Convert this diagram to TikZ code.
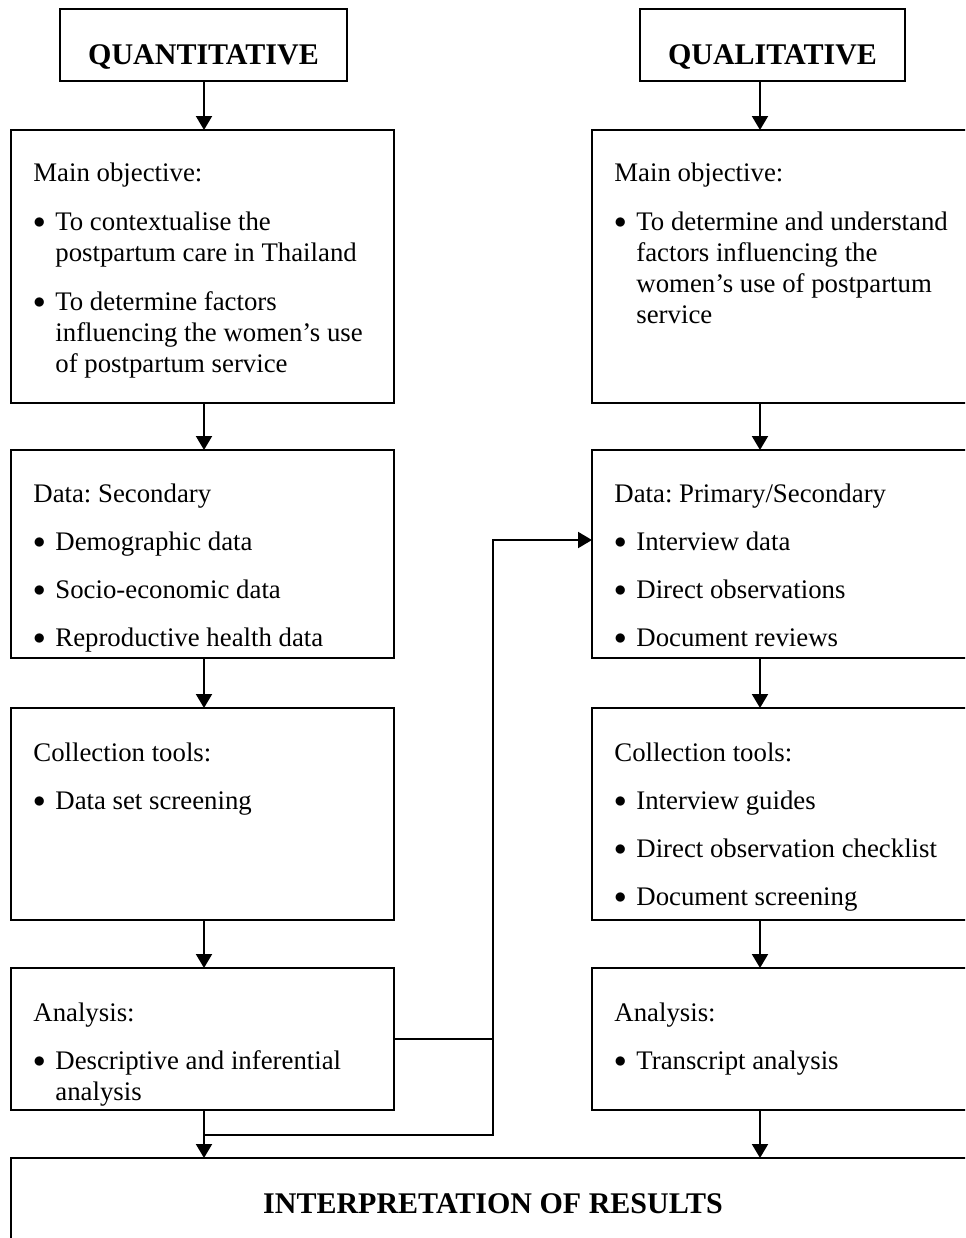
\documentclass[tikz,border=0pt]{standalone}
\usepackage{fontspec}
\setmainfont{Liberation Serif}
\usetikzlibrary{arrows.meta,positioning,calc}
\newcommand{\itm}{\makebox[11pt][l]{\raisebox{0.9pt}{\fontsize{12}{12}\selectfont$\bullet$}}}
\newcommand{\cont}{\hspace*{11pt}}
\newcommand{\hd}{\rule{0pt}{10pt}}
\frenchspacing

\begin{document}
\begin{tikzpicture}[x=0.5pt,y=-0.5pt,
  font=\fontsize{13.4}{15.5}\selectfont,
  stage/.style={draw,line width=1pt,rectangle,inner sep=0pt,outer sep=0pt,minimum width=191.5pt},
  head/.style={draw,line width=1pt,rectangle,inner sep=0pt,outer sep=0pt,minimum height=36pt,
    text height=19pt,text depth=0pt,font=\fontsize{15}{17}\selectfont\bfseries},
  txt/.style={anchor=north west,inner sep=0pt,align=left},
  arr/.style={line width=1pt,-{Triangle[length=7pt,width=8pt]}}]
\clip (0,0) rectangle (965,1238);
\coordinate (colL) at (204,0);
\coordinate (colR) at (760,0);
\coordinate (jn) at (493,0);
% --- headings ---
\node[head,minimum width=143.5pt] (titleL) at (203.5,45) {QUANTITATIVE};
\node[head,minimum width=132.5pt] (titleR) at (772.5,45) {QUALITATIVE};
% --- quantitative column ---
\node[stage,anchor=north west,minimum height=136.5pt] (mainL) at (11,130) {};
\node[stage,minimum height=104pt,below=23.5pt of mainL] (dataL) {};
\node[stage,minimum height=106pt,below=25pt of dataL] (collL) {};
\node[stage,minimum height=71pt,below=24pt of collL] (anaL) {};
% --- qualitative column ---
\node[stage,minimum height=136.5pt,right=99pt of mainL] (mainR) {};
\node[stage,minimum height=104pt,below=23.5pt of mainR] (dataR) {};
\node[stage,minimum height=106pt,below=25pt of dataR] (collR) {};
\node[stage,minimum height=71pt,below=24pt of collR] (anaR) {};
% --- results ---
\node[stage,minimum width=482pt,minimum height=46pt,below right=24pt and 0pt of anaL.south west,
  font=\fontsize{15}{17}\selectfont\bfseries] (interp) {INTERPRETATION OF RESULTS};

% box texts
\node[txt] (mainLt) at ($(mainL.north west)+(22,31)$) {\hd Main objective:\\[9pt]
  \itm To contextualise the\\ \cont postpartum care in Thailand\\[9pt]
  \itm To determine factors\\ \cont influencing the women's use\\ \cont of postpartum service};
\node[txt] (dataLt) at ($(dataL.north west)+(22,32)$) {\hd Data: Secondary\\[8.5pt]
  \itm Demographic data\\[8.5pt] \itm Socio-economic data\\[8.5pt] \itm Reproductive health data};
\node[txt] (collLt) at ($(collL.north west)+(22,33)$) {\hd Collection tools:\\[8.5pt]
  \itm Data set screening};
\node[txt] (anaLt) at ($(anaL.north west)+(22,33)$) {\hd Analysis:\\[8.5pt]
  \itm Descriptive and inferential\\ \cont analysis};
\node[txt] (mainRt) at ($(mainR.north west)+(22,31)$) {\hd Main objective:\\[9pt]
  \itm To determine and understand\\ \cont factors influencing the\\
  \cont women's use of postpartum\\ \cont service};
\node[txt] (dataRt) at ($(dataR.north west)+(22,32)$) {\hd Data: Primary/Secondary\\[8.5pt]
  \itm Interview data\\[8.5pt] \itm Direct observations\\[8.5pt] \itm Document reviews};
\node[txt] (collRt) at ($(collR.north west)+(22,33)$) {\hd Collection tools:\\[8.5pt]
  \itm Interview guides\\[8.5pt] \itm Direct observation checklist\\[8.5pt] \itm Document screening};
\node[txt] (anaRt) at ($(anaR.north west)+(22,33)$) {\hd Analysis:\\[8.5pt]
  \itm Transcript analysis};

% arrows
\foreach \a/\b in {titleL/mainL,mainL/dataL,dataL/collL,collL/anaL,anaL/interp}
  \draw[arr] (\a.south -| colL) -- (\b.north -| colL);
\foreach \a/\b in {titleR/mainR,mainR/dataR,dataR/collR,collR/anaR,anaR/interp}
  \draw[arr] (\a.south -| colR) -- (\b.north -| colR);
\coordinate (dataIn) at ($(dataR.north west)+(0,90)$);
\coordinate (merge) at ($(anaL.south -| colL)+(0,25)$);
\draw[arr] (anaL.east) -- (anaL.east -| jn) |- (dataIn);
\draw[line width=1pt] (anaL.east -| jn) |- (merge);
\end{tikzpicture}
\end{document}
